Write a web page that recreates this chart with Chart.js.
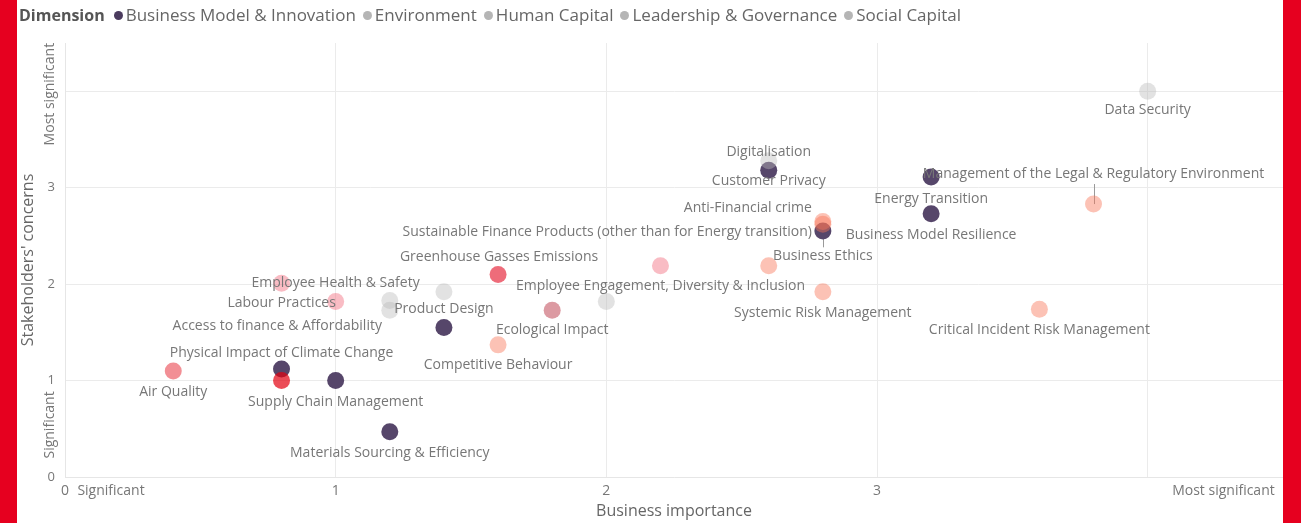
<!DOCTYPE html>
<html>
<head>
<meta charset="utf-8">
<title>Materiality matrix</title>
<script src="https://cdn.jsdelivr.net/npm/chart.js@4.4.1/dist/chart.umd.min.js"></script>
<style>
  html, body { margin: 0; padding: 0; background: #fff; }
  body { width: 1301px; height: 523px; position: relative; overflow: hidden; font-family: 'Open Sans', sans-serif; }
  .edge { position: absolute; top: 0; bottom: 0; width: 17px; background: #e6001f; z-index: 3; }
  #legend { position: absolute; left: 19px; top: 3px; font-size: 17px; color: #666; white-space: nowrap; z-index: 2; }
  #legend b { color: #555; margin-right: 9px; font-size: 16px; }
  #legend .item { margin-right: 7px; }
  #legend .dot { display: inline-block; width: 9px; height: 9px; border-radius: 50%; margin-right: 3px; vertical-align: 1px; }
  #wrap { position: absolute; left: 0; top: 0; width: 1301px; height: 523px; }
</style>
</head>
<body>
<div class="edge" style="left:0"></div>
<div class="edge" style="right:0;width:18px"></div>
<div id="legend"><b>Dimension</b></div>
<div id="wrap"><canvas id="matrix"></canvas></div>
<script>
// dimensions of the materiality matrix
const dimensions = ['Business Model & Innovation', 'Environment', 'Human Capital', 'Leadership & Governance', 'Social Capital'];

// topics ('' = point without a visible label)
const topics = [
  'Data Security', 'Digitalisation', 'Customer Privacy', 'Energy Transition',
  'Management of the Legal & Regulatory Environment', 'Business Model Resilience',
  'Anti-Financial crime', 'Business Ethics', 'Sustainable Finance Products (other than for Energy transition)',
  'Employee Engagement, Diversity & Inclusion', '', 'Greenhouse Gasses Emissions',
  'Employee Health & Safety', 'Labour Practices', 'Product Design', '', '', '',
  'Ecological Impact', 'Systemic Risk Management', 'Critical Incident Risk Management',
  'Access to finance & Affordability', 'Competitive Behaviour', 'Physical Impact of Climate Change',
  'Air Quality', '', 'Supply Chain Management', 'Materials Sourcing & Efficiency'
];
const businessImportance = [4.0, 2.6, 2.6, 3.2, 3.8, 3.2, 2.8, 2.8, 2.8, 2.2, 2.6, 1.6, 0.8, 1.0, 1.4, 1.2, 1.2, 2.0, 1.8, 2.8, 3.6, 1.4, 1.6, 0.8, 0.4, 0.8, 1.0, 1.2];
const stakeholderConcern = [4.0, 3.28, 3.18, 3.11, 2.83, 2.73, 2.65, 2.62, 2.55, 2.19, 2.19, 2.10, 2.01, 1.82, 1.92, 1.83, 1.73, 1.82, 1.73, 1.92, 1.74, 1.55, 1.37, 1.12, 1.10, 1.0, 1.0, 0.47];
const topicDimension = [4, 4, 0, 0, 3, 0, 3, 3, 0, 2, 3, 1, 2, 2, 4, 4, 4, 4, 1, 3, 3, 0, 3, 0, 1, 1, 0, 0];

// axis ticks
const xTickValues = [0, 0.17, 1, 2, 3, 4, 4.28];
const xTickLabels = ['0', 'Significant', '1', '2', '3', '', 'Most significant'];
const yTickValues = [0, 1, 2, 3, 4];
const yTickLabels = ['0', '1', '2', '3', ''];
const yEndValues = [0.54, 3.97];
const yEndLabels = ['Significant', 'Most significant'];

// styles
const dimColour = ['#56466a', 'rgba(225,0,14,0.44)', 'rgba(241,102,120,0.44)', 'rgba(248,117,86,0.44)', 'rgba(185,185,185,0.42)'];
const legendDot = ['#4b3b5e', '#b5b5b5', '#b5b5b5', '#b5b5b5', '#b5b5b5'];
const shadeOverride = { 11: 'rgba(231,45,65,0.7)', 18: 'rgba(205,111,122,0.7)', 25: 'rgba(226,0,16,0.7)' };

// label placement relative to the point: dx, dy, align, leader line
const labelPlacement = {
  'Data Security': [0, 19],
  'Digitalisation': [0, -9],
  'Customer Privacy': [0, 11],
  'Energy Transition': [0, 22],
  'Management of the Legal & Regulatory Environment': [0, -30, 'center', true],
  'Business Model Resilience': [0, 21],
  'Anti-Financial crime': [-75, -13],
  'Business Ethics': [0, 32, 'center', true],
  'Sustainable Finance Products (other than for Energy transition)': [-11, 1, 'right'],
  'Employee Engagement, Diversity & Inclusion': [0, 20],
  'Greenhouse Gasses Emissions': [1, -17],
  'Employee Health & Safety': [54, 0],
  'Labour Practices': [-54, 2],
  'Product Design': [0, 17],
  'Access to finance & Affordability': [-62, -1, 'right'],
  'Ecological Impact': [0, 20],
  'Competitive Behaviour': [0, 20],
  'Physical Impact of Climate Change': [0, -16],
  'Air Quality': [0, 21],
  'Supply Chain Management': [0, 21],
  'Materials Sourcing & Efficiency': [0, 21],
  'Systemic Risk Management': [0, 21],
  'Critical Incident Risk Management': [0, 21]
};

// html legend
const legend = document.getElementById('legend');
dimensions.forEach((d, i) => {
  const s = document.createElement('span');
  s.className = 'item';
  s.innerHTML = '<span class="dot" style="background:' + legendDot[i] + '"></span>' + d.replace('&', '&amp;');
  legend.appendChild(s);
});

const datasets = dimensions.map((d, di) => {
  const pts = [];
  topics.forEach((t, i) => {
    if (topicDimension[i] === di) pts.push({ x: businessImportance[i], y: stakeholderConcern[i], name: t, idx: i });
  });
  return {
    label: d,
    data: pts,
    order: di === 0 ? 1 : 0,
    backgroundColor: ctx => (ctx.raw && shadeOverride[ctx.raw.idx]) || dimColour[di],
    borderWidth: 0,
    pointRadius: 8.5,
    pointHoverRadius: 8.5
  };
});

const FONT = "'Open Sans', sans-serif";

const topicLabels = {
  id: 'topicLabels',
  beforeDatasetsDraw(chart) {
    const ctx = chart.ctx;
    ctx.save();
    ctx.strokeStyle = '#9a9a9a';
    ctx.lineWidth = 1;
    chart.data.datasets.forEach((ds, i) => {
      chart.getDatasetMeta(i).data.forEach((el, j) => {
        const p = labelPlacement[ds.data[j].name];
        if (!p || !p[3]) return;
        const x = Math.round(el.x) + 0.5;
        const ly = el.y + p[1] + (p[1] < 0 ? 10 : -9);
        ctx.beginPath();
        ctx.moveTo(x, ly);
        ctx.lineTo(x, el.y);
        ctx.stroke();
      });
    });
    ctx.restore();
  },
  afterDatasetsDraw(chart) {
    const ctx = chart.ctx;
    ctx.save();
    ctx.font = '14px ' + FONT;
    ctx.fillStyle = '#777';
    ctx.textBaseline = 'middle';
    chart.data.datasets.forEach((ds, i) => {
      chart.getDatasetMeta(i).data.forEach((el, j) => {
        const name = ds.data[j].name;
        const p = labelPlacement[name];
        if (!name || !p) return;
        ctx.textAlign = p[2] || 'center';
        ctx.fillText(name, el.x + p[0], el.y + p[1]);
      });
    });
    // rotated end labels of the y axis
    const ys = chart.scales.y;
    ctx.font = '14px ' + FONT;
    ctx.textAlign = 'center';
    yEndValues.forEach((v, k) => {
      ctx.save();
      ctx.translate(50, ys.getPixelForValue(v));
      ctx.rotate(-Math.PI / 2);
      ctx.fillText(yEndLabels[k], 0, 0);
      ctx.restore();
    });
    ctx.restore();
  }
};

new Chart(document.getElementById('matrix'), {
  type: 'scatter',
  data: { datasets: datasets },
  options: {
    responsive: true,
    maintainAspectRatio: false,
    animation: false,
    layout: { padding: { left: 0, right: 18, top: 43, bottom: 0 } },
    plugins: { legend: { display: false }, tooltip: { enabled: false } },
    scales: {
      x: {
        min: 0, max: 4.5,
        afterFit: s => { s.height = 46; },
        afterBuildTicks: s => { s.ticks = xTickValues.map(v => ({ value: v })); },
        ticks: {
          autoSkip: false, maxRotation: 0, padding: 6,
          color: '#777', font: { family: FONT, size: 14 },
          callback: (v, i) => xTickLabels[i]
        },
        grid: {
          drawTicks: false,
          color: c => (c.tick && Number.isInteger(c.tick.value)) ? '#ebebeb' : 'rgba(0,0,0,0)'
        },
        border: { color: '#e6e6e6' },
        title: { display: true, text: 'Business importance', color: '#666', font: { family: FONT, size: 16 }, padding: { top: 0, bottom: 2 } }
      },
      y: {
        min: 0, max: 4.5,
        afterFit: s => { s.width = 65; },
        afterBuildTicks: s => { s.ticks = yTickValues.map(v => ({ value: v })); },
        ticks: {
          autoSkip: false, padding: 10,
          color: '#777', font: { family: FONT, size: 13 },
          callback: (v, i) => yTickLabels[i]
        },
        grid: { drawTicks: false, color: '#ebebeb' },
        border: { color: '#e6e6e6' },
        title: { display: true, text: "Stakeholders' concerns", color: '#666', font: { family: FONT, size: 16 }, padding: { top: 19, bottom: 0 } }
      }
    }
  },
  plugins: [topicLabels]
});
</script>
</body>
</html>
